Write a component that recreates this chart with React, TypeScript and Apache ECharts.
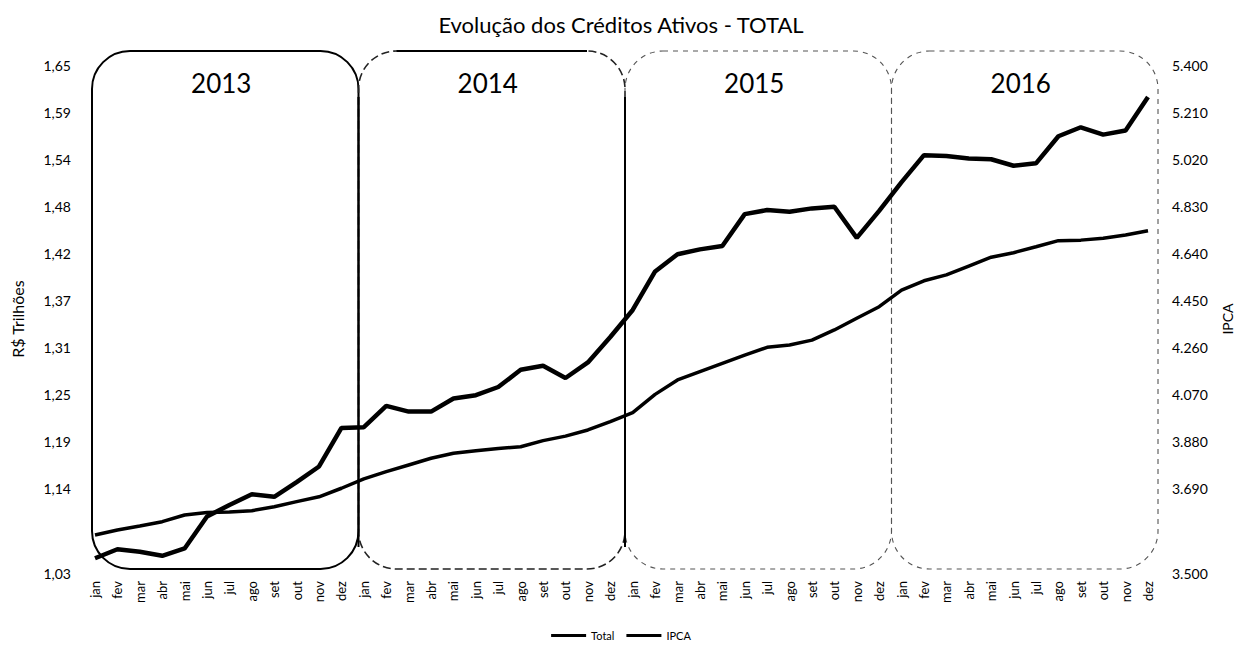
import React, { useEffect, useRef } from 'react';
import * as echarts from 'echarts';

const months = ['jan', 'fev', 'mar', 'abr', 'mai', 'jun', 'jul', 'ago', 'set', 'out', 'nov', 'dez'];
const years = ['2013', '2014', '2015', '2016'];
const categories = years.flatMap((y) => months.map((m) => `${m}/${y}`));

// R$ trilhões
const totalValues = [
  1.048, 1.059, 1.056, 1.051, 1.060, 1.099, 1.113, 1.126, 1.123, 1.141, 1.160, 1.207,
  1.208, 1.234, 1.227, 1.227, 1.243, 1.247, 1.257, 1.278, 1.283, 1.268, 1.287, 1.318,
  1.351, 1.398, 1.419, 1.425, 1.429, 1.468, 1.473, 1.471, 1.475, 1.477, 1.439, 1.472,
  1.507, 1.540, 1.539, 1.536, 1.535, 1.527, 1.530, 1.563, 1.574, 1.565, 1.570, 1.611,
];

// IPCA (número-índice)
const ipcaValues = [
  3642, 3661, 3676, 3692, 3717, 3726, 3728, 3733, 3748, 3767, 3785, 3817,
  3852, 3879, 3904, 3929, 3948, 3957, 3966, 3972, 3995, 4012, 4035, 4066,
  4100, 4168, 4222, 4253, 4284, 4315, 4344, 4353, 4371, 4409, 4453, 4496,
  4558, 4593, 4615, 4648, 4681, 4698, 4720, 4743, 4745, 4752, 4764, 4780,
];

const leftTickLabels = ['1,65', '1,59', '1,54', '1,48', '1,42', '1,37', '1,31', '1,25', '1,19', '1,14', '1,03'];
const rightTickLabels = ['5.400', '5.210', '5.020', '4.830', '4.640', '4.450', '4.260', '4.070', '3.880', '3.690', '3.500'];

const LEFT_MIN = 1.03;
const LEFT_MAX = 1.65;
const RIGHT_MIN = 3500;
const RIGHT_MAX = 5400;

// label spacing as fraction of the axis height (labels evenly spaced from the top, last one at the bottom)
const STEP_FRAC = 47 / 508;
function tickPositions(min: number, max: number, count: number): number[] {
  const arr: number[] = [];
  for (let k = 0; k < count - 1; k++) arr.push(max - k * (max - min) * STEP_FRAC);
  arr.push(min);
  return arr;
}
const leftPositions = tickPositions(LEFT_MIN, LEFT_MAX, leftTickLabels.length);
const rightPositions = tickPositions(RIGHT_MIN, RIGHT_MAX, rightTickLabels.length);

function labelFor(positions: number[], labels: string[], v: number, tol: number) {
  for (let i = 0; i < positions.length; i++) {
    if (Math.abs(positions[i] - v) < tol) return labels[i];
  }
  return '';
}

const FONT = 'Lato, "Open Sans", "DejaVu Sans", sans-serif';

export default function App() {
  const ref = useRef<HTMLDivElement>(null);

  useEffect(() => {
    if (!ref.current) return;
    const chart = echarts.init(ref.current, null, { renderer: 'svg' });
    const option: any = {
      animation: false,
      backgroundColor: '#ffffff',
      title: {
        text: 'Evolução dos Créditos Ativos - TOTAL',
        left: 'center',
        top: 8,
        textStyle: { fontFamily: FONT, fontSize: 22, fontWeight: 'normal', color: '#000' },
      },
      grid: { left: 95, right: 87, top: 65, bottom: 75, containLabel: false },
      legend: {
        data: ['Total', 'IPCA'],
        top: 625,
        left: 'center',
        icon: 'rect',
        itemWidth: 35,
        itemHeight: 3,
        itemGap: 12,
        textStyle: { fontFamily: FONT, fontSize: 11, color: '#000' },
      },
      xAxis: {
        type: 'category',
        data: categories,
        boundaryGap: false,
        axisLine: { show: false },
        axisTick: { show: false },
        splitLine: { show: false },
        axisLabel: {
          interval: 0,
          rotate: 90,
          fontSize: 13,
          fontFamily: FONT,
          color: '#000',
          margin: 8,
          formatter: (v: string) => v.split('/')[0],
        },
      },
      yAxis: [
        {
          type: 'value',
          min: LEFT_MIN,
          max: LEFT_MAX,
          position: 'left',
          name: 'R$ Trilhões',
          nameLocation: 'middle',
          nameGap: 70,
          nameRotate: 90,
          nameTextStyle: { fontFamily: FONT, fontSize: 16, color: '#000' },
          axisLine: { show: false },
          axisTick: { show: false },
          splitLine: { show: false },
          axisLabel: {
            customValues: leftPositions,
            fontSize: 14,
            fontFamily: FONT,
            color: '#000',
            margin: 24,
            formatter: (v: number) => labelFor(leftPositions, leftTickLabels, v, 1e-6),
          },
        },
        {
          type: 'value',
          min: RIGHT_MIN,
          max: RIGHT_MAX,
          position: 'right',
          name: 'IPCA',
          nameLocation: 'middle',
          nameGap: 72,
          nameRotate: 90,
          nameTextStyle: { fontFamily: FONT, fontSize: 14, color: '#000', padding: [0, 0, 40, 0] },
          axisLine: { show: false },
          axisTick: { show: false },
          splitLine: { show: false },
          axisLabel: {
            customValues: rightPositions,
            fontSize: 14,
            fontFamily: FONT,
            color: '#000',
            margin: 24,
            formatter: (v: number) => labelFor(rightPositions, rightTickLabels, v, 1e-3),
          },
        },
      ],
      series: [
        {
          name: 'Total',
          type: 'line',
          yAxisIndex: 0,
          data: totalValues,
          symbol: 'none',
          showSymbol: false,
          lineStyle: { color: '#000', width: 4.5 },
          itemStyle: { color: '#000' },
          z: 3,
        },
        {
          name: 'IPCA',
          type: 'line',
          yAxisIndex: 1,
          data: ipcaValues,
          symbol: 'none',
          showSymbol: false,
          lineStyle: { color: '#000', width: 3.5 },
          itemStyle: { color: '#000' },
          z: 3,
        },
      ],
    };
    chart.setOption(option);

    // Year boxes, positioned from the chart's own scales
    const x0 = chart.convertToPixel({ xAxisIndex: 0 }, categories[0]) as number;
    const xN = chart.convertToPixel({ xAxisIndex: 0 }, categories[categories.length - 1]) as number;
    const yTop = chart.convertToPixel({ yAxisIndex: 0 }, LEFT_MAX) as number;
    const yBot = chart.convertToPixel({ yAxisIndex: 0 }, LEFT_MIN) as number;
    const L = x0 - 3;
    const R = xN + 10;
    const w = (R - L) / years.length;
    const top = yTop - 14;
    const bottom = yBot - 4;
    const r = 38;
    const graphics: any[] = [];
    years.forEach((yr, k) => {
      const bx = L + k * w;
      const solid = k === 0;
      graphics.push({
        type: 'rect',
        z: 1,
        shape: { x: bx, y: top, width: w, height: bottom - top, r },
        style: {
          fill: 'none',
          stroke: solid ? '#000' : k === 1 ? '#222' : '#555',
          lineWidth: solid ? 2 : k === 1 ? 1.6 : 1.1,
          lineDash: solid ? null : k === 1 ? [8, 4] : [5, 5],
        },
      });
      graphics.push({
        type: 'text',
        z: 5,
        x: bx + w / 2 - 4,
        y: top + 32,
        style: {
          text: yr,
          fontFamily: FONT,
          fontSize: 26,
          fill: '#000',
          align: 'center',
          verticalAlign: 'middle',
          textAlign: 'center',
          textVerticalAlign: 'middle',
        },
      });
    });
    // solid top edge of the 2014 box
    graphics.push({
      type: 'line',
      z: 1,
      shape: { x1: L + w + r, y1: top, x2: L + 2 * w - r, y2: top },
      style: { stroke: '#000', lineWidth: 2 },
    });
    // solid separators between 2013/2014 and 2014/2015
    [1, 2].forEach((k) => {
      graphics.push({
        type: 'line',
        z: 4,
        shape: { x1: L + k * w, y1: top + 46, x2: L + k * w, y2: bottom - 22 },
        style: { stroke: '#000', lineWidth: 2 },
      });
    });
    chart.setOption({ graphic: graphics });

    return () => chart.dispose();
  }, []);

  return (
    <div
      ref={ref}
      style={{ position: 'fixed', left: 0, top: 0, width: 1242, height: 648, background: '#fff' }}
    />
  );
}
